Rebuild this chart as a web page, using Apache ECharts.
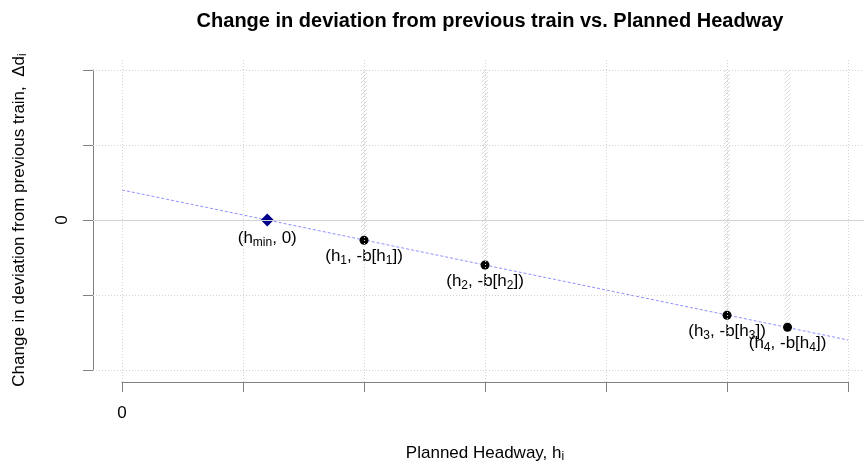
<!DOCTYPE html>
<html>
<head>
<meta charset="utf-8">
<script src="https://cdn.jsdelivr.net/npm/echarts@6/dist/echarts.min.js"></script>
<style>
  html, body { margin: 0; padding: 0; background: #ffffff; }
  #chart { width: 864px; height: 464px; }
</style>
</head>
<body>
<div id="chart"></div>
<script>
// Axis ticks (only 0 gets a printed label)
const xTicks = [0, 1, 2, 3, 4, 5, 6];
const yTicks = [-2, -1, 0, 1, 2];

// Fitted relation between planned headway and change in deviation
const fitLine = [[0, 0.4], [6, -1.6]];

// Minimum headway where the change in deviation is zero
const hMinPoint = [1.2, 0];

// Planned headways and the corresponding -b[h] values
const headways = [2, 3, 5, 5.5];
const deviations = [-0.27, -0.6, -1.27, -1.43];
const subscripts = ['1', '2', '3', '4'];

// Top of the hatched guide stripes
const stripeTop = 2;
const stripeHalfWidth = 0.025;

const FONT = "'Liberation Sans', Arial, Helvetica, sans-serif";

function hatchPattern() {
  const c = document.createElement('canvas');
  c.width = 4; c.height = 4;
  const g = c.getContext('2d');
  g.strokeStyle = '#dadada';
  g.lineWidth = 1;
  g.beginPath();
  g.moveTo(0, 4); g.lineTo(4, 0);
  g.moveTo(-1, 1); g.lineTo(1, -1);
  g.moveTo(3, 5); g.lineTo(5, 3);
  g.stroke();
  return c;
}

function subscriptRich(size) {
  return {
    t: { fontSize: size, fontFamily: FONT, color: '#000', lineHeight: size + 3 },
    s: { fontSize: Math.round(size * 0.7), fontFamily: FONT, color: '#000',
         lineHeight: 12, padding: [size - 9, 0, 0, 0] }
  };
}
const subRich = subscriptRich(17);

const pointData = headways.map((h, i) => ({
  value: [h, deviations[i]],
  label: { formatter: '{t|(h}{s|' + subscripts[i] + '}{t|, -b[h}{s|' + subscripts[i] + '}{t|])}' }
}));

const stripes = headways.map((h, i) => [
  { coord: [h - stripeHalfWidth, stripeTop] },
  { coord: [h + stripeHalfWidth, deviations[i]] }
]);

const gridLines = []
  .concat(xTicks.map(v => ({ xAxis: v, lineStyle: { type: [1, 2], color: '#d3d3d3' } })))
  .concat(yTicks.map(v => v === 0
    ? { yAxis: v, lineStyle: { type: 'solid', color: '#d3d3d3' } }
    : { yAxis: v, lineStyle: { type: [1, 2], color: '#d3d3d3' } }));

const option = {
  backgroundColor: '#ffffff',
  animation: false,
  title: {
    text: 'Change in deviation from previous train vs. Planned Headway',
    left: 485,
    top: 6,
    textAlign: 'center',
    textStyle: { fontFamily: FONT, fontWeight: 'bold', fontSize: 20, color: '#000' }
  },
  grid: [
    // plotting region (padded beyond the ticks, running off the right edge)
    { left: 93, top: 58, right: 0, height: 324, containLabel: false, outerBoundsMode: 'none' },
    // tick span, used for the visible axes
    { left: 122, top: 70, width: 726, height: 300, containLabel: false, outerBoundsMode: 'none' }
  ],
  xAxis: [
    { gridIndex: 0, type: 'value', min: -0.24, max: 6.132, show: false },
    {
      gridIndex: 1, type: 'value', min: 0, max: 6, interval: 1, offset: 12,
      axisLine: { show: true, onZero: false, lineStyle: { color: '#808080', width: 1 } },
      axisTick: { show: true, length: 10, lineStyle: { color: '#808080' } },
      splitLine: { show: false },
      axisLabel: { margin: 23, fontSize: 17, fontFamily: FONT, color: '#000',
        formatter: v => (v === 0 ? '0' : '') },
      name: '{t|Planned Headway, h}{s|i}',
      nameLocation: 'middle',
      nameGap: 61,
      nameTextStyle: { rich: subRich }
    }
  ],
  yAxis: [
    { gridIndex: 0, type: 'value', min: -2.16, max: 2.16, show: false },
    {
      gridIndex: 1, type: 'value', min: -2, max: 2, interval: 1, offset: 29,
      axisLine: { show: true, onZero: false, lineStyle: { color: '#808080', width: 1 } },
      axisTick: { show: true, length: 10, lineStyle: { color: '#808080' } },
      splitLine: { show: false },
      axisLabel: { margin: 22, rotate: 90, fontSize: 17, fontFamily: FONT, color: '#000',
        formatter: v => (v === 0 ? '0' : '') },
      name: '{t|Change in deviation from previous train,  \u0394d}{s|i}',
      nameLocation: 'middle',
      nameRotate: 90,
      nameGap: 64,
      nameTextStyle: { rich: subRich }
    }
  ],
  series: [
    {
      // background grid
      type: 'scatter', xAxisIndex: 0, yAxisIndex: 0, data: [], z: 1,
      silent: true,
      markLine: { symbol: 'none', silent: true, label: { show: false }, data: gridLines,
        lineStyle: { width: 1 } }
    },
    {
      // hatched guide stripes above each headway
      type: 'scatter', xAxisIndex: 0, yAxisIndex: 0, data: [], z: 2,
      silent: true,
      markArea: { silent: true, itemStyle: { color: { image: hatchPattern(), repeat: 'repeat' } },
        data: stripes }
    },
    {
      type: 'line', xAxisIndex: 0, yAxisIndex: 0, data: fitLine, z: 3,
      symbol: 'none', silent: true,
      lineStyle: { color: 'rgba(70,70,255,0.6)', width: 1, type: [3, 2] }
    },
    {
      type: 'scatter', xAxisIndex: 0, yAxisIndex: 0, z: 4,
      data: [{ value: hMinPoint }],
      symbol: 'diamond', symbolSize: 13,
      itemStyle: { color: '#00008b', opacity: 1 },
      label: { show: true, position: 'bottom', distance: 2, color: '#000',
        formatter: '{t|(h}{s|min}{t|, 0)}', rich: subRich }
    },
    {
      type: 'scatter', xAxisIndex: 0, yAxisIndex: 0, z: 4,
      data: pointData,
      symbol: 'circle', symbolSize: 9,
      itemStyle: { color: '#000', opacity: 1 },
      label: { show: true, position: 'bottom', distance: 2, color: '#000', rich: subRich }
    }
  ]
};

const chart = echarts.init(document.getElementById('chart'), null, { renderer: 'canvas' });
chart.setOption(option);
</script>
</body>
</html>
